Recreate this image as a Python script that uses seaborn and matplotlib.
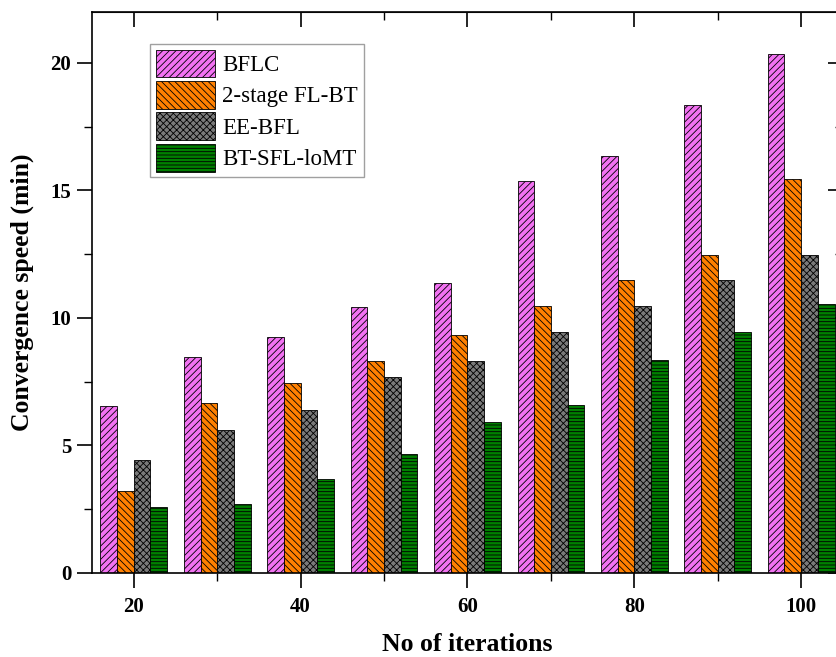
import pandas as pd
import matplotlib
matplotlib.use("Agg")
import matplotlib.pyplot as plt
import seaborn as sns
from matplotlib.ticker import MultipleLocator

# -------------------------------
# DATA
# -------------------------------
iterations = [20, 30, 40, 50, 60, 70, 80, 90, 100]
methods = ["BFLC", "2-stage FL-BT", "EE-BFL", "BT-SFL-IoMT"]
method_labels = ["BFLC", "2-stage FL-BT", "EE-BFL", "BT-SFL-loMT"]

bflc = [6.55, 8.47, 9.25, 10.42, 11.37, 15.38, 16.33, 18.36, 20.35]
fl_bt = [3.2, 6.67, 7.46, 8.31, 9.32, 10.45, 11.47, 12.48, 15.45]
ee_bfl = [4.42, 5.6, 6.38, 7.68, 8.31, 9.45, 10.45, 11.47, 12.48]
bt_sfl = [2.6, 2.7, 3.68, 4.68, 5.9, 6.57, 8.34, 9.44, 10.53]

colors = ["#F272F2", "#FF8000", "#7A7A7A", "#007F00"]
hatches = ["/////", "\\\\\\\\\\", "xxxxx", "-----"]

df = pd.DataFrame({
    "iter": iterations * 4,
    "method": [m for m in methods for _ in iterations],
    "speed": bflc + fl_bt + ee_bfl + bt_sfl,
})

# -------------------------------
# PLOT
# -------------------------------
sns.set_style("white")
plt.rcParams["font.family"] = ["Liberation Serif", "DejaVu Serif"]
plt.rcParams["hatch.linewidth"] = 0.6
plt.rcParams["text.color"] = "black"
plt.rcParams["axes.labelcolor"] = "black"
plt.rcParams["xtick.color"] = "black"
plt.rcParams["ytick.color"] = "black"

fig = plt.figure(figsize=(8.37, 6.57), dpi=100)
ax = fig.add_axes([0.110, 0.128, 0.897, 0.854])

sns.barplot(data=df, x="iter", y="speed", hue="method", hue_order=methods,
            palette=colors, native_scale=True, width=0.8, saturation=1,
            edgecolor="black", linewidth=0.6, legend=False, ax=ax)

for cont, h in zip(ax.containers, hatches):
    for bar in cont:
        bar.set_hatch(h)

ax.set_xlim(15, 105)
ax.set_ylim(0, 22)
ax.xaxis.set_major_locator(MultipleLocator(20))
ax.xaxis.set_minor_locator(MultipleLocator(10))
ax.yaxis.set_major_locator(MultipleLocator(5))
ax.yaxis.set_minor_locator(MultipleLocator(2.5))

ax.tick_params(which="both", direction="out", bottom=True, left=True,
               top=False, right=False, colors="black")
ax.tick_params(which="major", length=11, width=1.2)
ax.tick_params(which="minor", length=6, width=1.0)
ax.tick_params(axis="x", which="major", pad=6)
ax.tick_params(axis="y", which="major", pad=4)
for lab in ax.get_xticklabels() + ax.get_yticklabels():
    lab.set_fontweight("bold")
    lab.set_fontsize(15)

# inward ticks on top and right like the original frame
ax_top = ax.secondary_xaxis("top")
ax_top.xaxis.set_major_locator(MultipleLocator(20))
ax_top.xaxis.set_minor_locator(MultipleLocator(10))
ax_top.tick_params(which="both", direction="in", top=True, labeltop=False)
ax_top.tick_params(which="major", length=11, width=1.2)
ax_top.tick_params(which="minor", length=6, width=1.0)
ax_right = ax.secondary_yaxis("right")
ax_right.yaxis.set_major_locator(MultipleLocator(5))
ax_right.yaxis.set_minor_locator(MultipleLocator(2.5))
ax_right.tick_params(which="both", direction="in", right=True, labelright=False)
ax_right.tick_params(which="major", length=11, width=1.2)
ax_right.tick_params(which="minor", length=6, width=1.0)

for sp in ax.spines.values():
    sp.set_visible(True)
    sp.set_color("black")
    sp.set_linewidth(1.2)

ax.set_xlabel("No of iterations", fontsize=18.5, fontweight="bold", labelpad=12)
ax.set_ylabel("Convergence speed (min)", fontsize=18.5, fontweight="bold", labelpad=12)

leg = ax.legend(handles=ax.containers, labels=method_labels, loc="upper left",
                bbox_to_anchor=(0.077, 0.943), fontsize=16.5, frameon=True,
                fancybox=False, edgecolor="#888888", handlelength=2.6,
                handleheight=1.5, handletextpad=0.3, labelspacing=0.15,
                borderpad=0.25, borderaxespad=0)
leg.get_frame().set_linewidth(1.0)

plt.savefig("out.png", dpi=100)
plt.close()
